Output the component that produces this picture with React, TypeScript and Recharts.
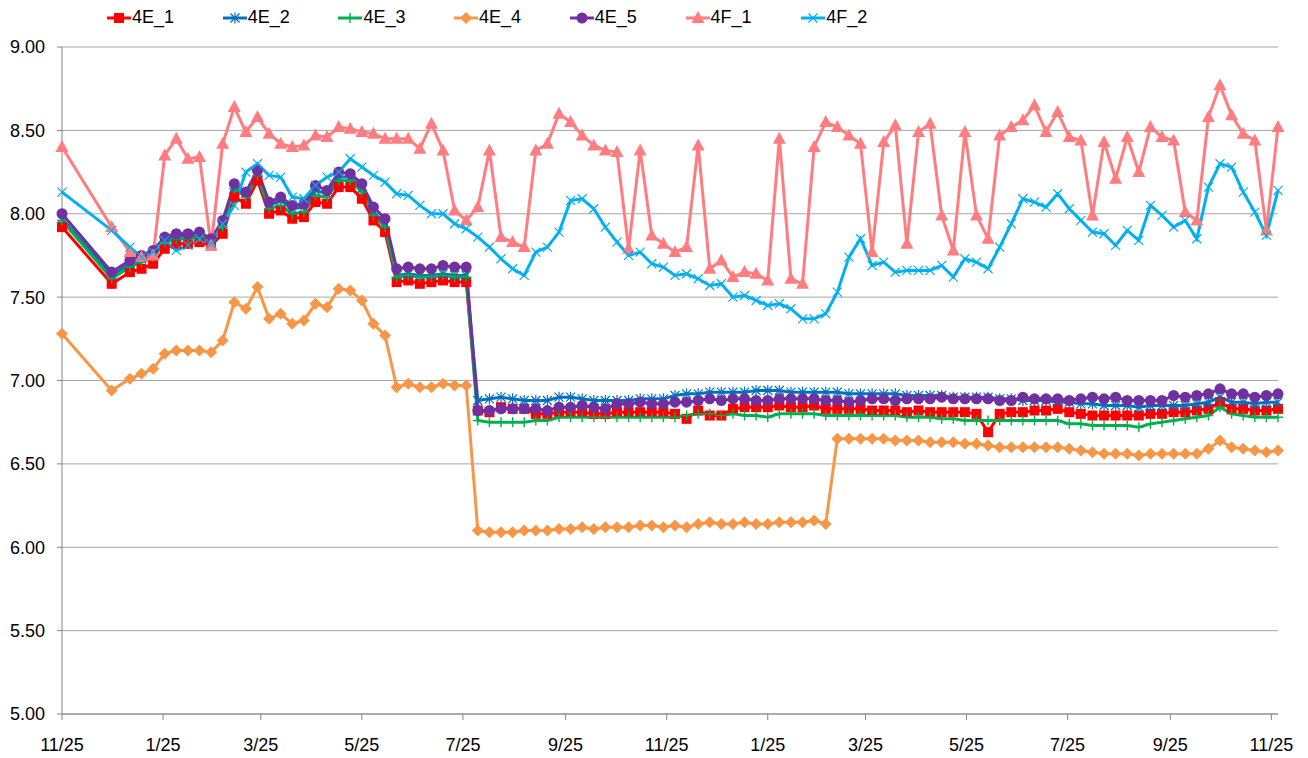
import React from "react";
import {
  LineChart,
  Line,
  XAxis,
  YAxis,
  CartesianGrid,
} from "recharts";

// days since the first reading (11/25)
const days = [
  0, 30, 41, 48, 55, 62, 69, 76, 83, 90, 97, 104, 111, 118, 125, 132, 139, 146,
  153, 160, 167, 174, 181, 188, 195, 202, 209, 216, 223, 230, 237, 244, 251,
  258, 265, 272, 279, 286, 293, 300, 307, 314, 321, 328, 335, 342, 349, 356,
  363, 370, 377, 384, 391, 398, 405, 412, 419, 426, 433, 440, 447, 454, 461,
  468, 475, 482, 489, 496, 503, 510, 517, 524, 531, 538, 545, 552, 559, 566,
  573, 580, 587, 594, 601, 608, 615, 622, 629, 636, 643, 650, 657, 664, 671,
  678, 685, 692, 699, 706, 713, 720, 727, 734,
];

const tickDays = [0, 61, 120, 181, 242, 304, 365, 426, 485, 546, 607, 669, 730];
const tickLabels = [
  "11/25", "1/25", "3/25", "5/25", "7/25", "9/25", "11/25",
  "1/25", "3/25", "5/25", "7/25", "9/25", "11/25",
];
const yTicks = [5, 5.5, 6, 6.5, 7, 7.5, 8, 8.5, 9];

const s4E1 = [
  7.92, 7.58, 7.65, 7.67, 7.7, 7.79, 7.82, 7.82, 7.83, 7.81, 7.88, 8.1, 8.06,
  8.2, 8.0, 8.02, 7.97, 7.98, 8.07, 8.06, 8.16, 8.16, 8.09, 7.96, 7.89, 7.59,
  7.6, 7.58, 7.59, 7.6, 7.59, 7.59,
  6.82, 6.81, 6.84, 6.83, 6.83, 6.8, 6.8, 6.81, 6.81, 6.81, 6.8, 6.8, 6.81,
  6.81, 6.81, 6.81, 6.81, 6.8, 6.77, 6.82, 6.79, 6.79, 6.83, 6.84, 6.84, 6.84,
  6.85, 6.84, 6.84, 6.85, 6.83, 6.83, 6.83, 6.83, 6.82, 6.82, 6.82, 6.81,
  6.82, 6.81, 6.81, 6.81, 6.81, 6.8, 6.69, 6.8, 6.81, 6.81, 6.82, 6.82, 6.83,
  6.81, 6.8, 6.79, 6.79, 6.79, 6.79, 6.79, 6.8, 6.8, 6.81, 6.81, 6.82, 6.83,
  6.87, 6.83, 6.83, 6.82, 6.82, 6.83,
];

const s4E2 = [
  7.97, 7.63, 7.7, 7.73, 7.76, 7.85, 7.86, 7.87, 7.87, 7.84, 7.94, 8.16, 8.12,
  8.24, 8.05, 8.08, 8.03, 8.04, 8.14, 8.12, 8.22, 8.22, 8.15, 8.01, 7.94, 7.63,
  7.64, 7.63, 7.63, 7.64, 7.63, 7.63,
  6.88, 6.89, 6.9, 6.89, 6.88, 6.88, 6.88, 6.9, 6.9, 6.89, 6.88, 6.88, 6.88,
  6.88, 6.89, 6.89, 6.89, 6.91, 6.92, 6.92, 6.93, 6.93, 6.93, 6.93, 6.94, 6.94,
  6.94, 6.93, 6.93, 6.93, 6.93, 6.93, 6.92, 6.92, 6.92, 6.92, 6.92, 6.91,
  6.91, 6.91, 6.91, 6.9, 6.9, 6.9, 6.9, 6.89, 6.89, 6.88, 6.88, 6.88, 6.87,
  6.87, 6.86, 6.86, 6.85, 6.85, 6.85, 6.84, 6.85, 6.85, 6.85, 6.85, 6.86, 6.87,
  6.9, 6.87, 6.87, 6.86, 6.87, 6.87,
];

const s4E3 = [
  7.96, 7.61, 7.68, 7.71, 7.74, 7.83, 7.85, 7.85, 7.86, 7.83, 7.92, 8.15, 8.1,
  8.23, 8.03, 8.05, 8.0, 8.01, 8.11, 8.1, 8.2, 8.2, 8.13, 7.99, 7.92, 7.62,
  7.63, 7.62, 7.62, 7.63, 7.62, 7.62,
  6.76, 6.75, 6.75, 6.75, 6.75, 6.76, 6.76, 6.78, 6.78, 6.78, 6.78, 6.78, 6.78,
  6.78, 6.78, 6.78, 6.78, 6.78, 6.79, 6.8, 6.8, 6.79, 6.8, 6.79, 6.79, 6.78,
  6.8, 6.8, 6.8, 6.8, 6.79, 6.79, 6.79, 6.79, 6.79, 6.79, 6.79, 6.78, 6.78,
  6.78, 6.77, 6.77, 6.76, 6.76, 6.76, 6.76, 6.76, 6.76, 6.76, 6.76, 6.76,
  6.74, 6.74, 6.73, 6.73, 6.73, 6.73, 6.72, 6.74, 6.75, 6.76, 6.77, 6.78,
  6.79, 6.84, 6.8, 6.79, 6.78, 6.78, 6.78,
];

const s4E4 = [
  7.28, 6.94, 7.01, 7.04, 7.07, 7.16, 7.18, 7.18, 7.18, 7.17, 7.24, 7.47, 7.43,
  7.56, 7.37, 7.4, 7.34, 7.36, 7.46, 7.44, 7.55, 7.54, 7.48, 7.34, 7.27, 6.96,
  6.98, 6.96, 6.96, 6.98, 6.97, 6.97,
  6.1, 6.09, 6.09, 6.09, 6.1, 6.1, 6.1, 6.11, 6.11, 6.12, 6.11, 6.12, 6.12,
  6.12, 6.13, 6.13, 6.12, 6.13, 6.12, 6.14, 6.15, 6.14, 6.14, 6.15, 6.14, 6.14,
  6.15, 6.15, 6.15, 6.16, 6.14, 6.65, 6.65, 6.65, 6.65, 6.65, 6.64, 6.64,
  6.64, 6.63, 6.63, 6.63, 6.62, 6.62, 6.61, 6.6, 6.6, 6.6, 6.6, 6.6, 6.6,
  6.59, 6.58, 6.57, 6.56, 6.56, 6.56, 6.55, 6.56, 6.56, 6.56, 6.56, 6.56,
  6.59, 6.64, 6.6, 6.59, 6.58, 6.57, 6.58,
];

const s4E5 = [
  8.0, 7.65, 7.72, 7.75, 7.78, 7.86, 7.88, 7.88, 7.89, 7.85, 7.96, 8.18, 8.13,
  8.26, 8.07, 8.1, 8.05, 8.06, 8.17, 8.14, 8.25, 8.24, 8.18, 8.04, 7.97, 7.67,
  7.68, 7.67, 7.67, 7.69, 7.68, 7.68,
  6.82, 6.82, 6.83, 6.83, 6.83, 6.83, 6.82, 6.84, 6.84, 6.85, 6.84, 6.83, 6.86,
  6.86, 6.87, 6.86, 6.86, 6.87, 6.87, 6.88, 6.89, 6.88, 6.89, 6.89, 6.88, 6.88,
  6.89, 6.89, 6.89, 6.89, 6.88, 6.88, 6.87, 6.88, 6.89, 6.89, 6.88, 6.89,
  6.89, 6.89, 6.9, 6.89, 6.89, 6.89, 6.89, 6.88, 6.88, 6.9, 6.89, 6.89, 6.89,
  6.88, 6.89, 6.9, 6.89, 6.9, 6.88, 6.88, 6.88, 6.88, 6.91, 6.9, 6.91, 6.92,
  6.95, 6.92, 6.92, 6.9, 6.91, 6.92,
];

const s4F1 = [
  8.4, 7.92, 7.77, 7.74, 7.75, 8.35, 8.45, 8.33, 8.34, 7.81, 8.42, 8.64, 8.49,
  8.58, 8.48, 8.42, 8.4, 8.41, 8.47, 8.46, 8.52, 8.51, 8.49, 8.48, 8.45, 8.45,
  8.45, 8.39, 8.54, 8.38, 8.02, 7.96, 8.04, 8.38, 7.86, 7.83, 7.8, 8.38, 8.42,
  8.6, 8.55, 8.47, 8.41, 8.38, 8.37, 7.79, 8.38, 7.87, 7.82, 7.77, 7.8, 8.41,
  7.67, 7.72, 7.62, 7.65, 7.64, 7.6, 8.45, 7.61, 7.58, 8.4, 8.55, 8.52, 8.47,
  8.42, 7.77, 8.43, 8.53, 7.82, 8.49, 8.54, 7.99, 7.78, 8.49, 7.99, 7.85, 8.47,
  8.52, 8.56, 8.65, 8.49, 8.61, 8.46, 8.44, 7.99, 8.43, 8.21, 8.46, 8.25, 8.52,
  8.46, 8.44, 8.01, 7.96, 8.58, 8.77, 8.59, 8.48, 8.44, 7.9, 8.52,
];

const s4F2 = [
  8.13, 7.9, 7.8, 7.74, 7.77, 7.84, 7.78, 7.81, 7.85, 7.82, 7.94, 8.05, 8.25,
  8.3, 8.23, 8.22, 8.1, 8.09, 8.17, 8.22, 8.25, 8.33, 8.28, 8.23, 8.19, 8.12,
  8.11, 8.05, 8.0, 8.0, 7.94, 7.91, 7.86, 7.8, 7.73, 7.67, 7.63, 7.77, 7.8,
  7.89, 8.08, 8.09, 8.03, 7.92, 7.83, 7.75, 7.77, 7.7, 7.68, 7.63, 7.64, 7.61,
  7.57, 7.58, 7.5, 7.51, 7.48, 7.45, 7.46, 7.43, 7.37, 7.37, 7.4, 7.53, 7.74,
  7.85, 7.69, 7.71, 7.65, 7.66, 7.66, 7.66, 7.69, 7.62, 7.73, 7.71, 7.67, 7.8,
  7.94, 8.09, 8.07, 8.04, 8.12, 8.03, 7.96, 7.89, 7.88, 7.81, 7.9, 7.84, 8.05,
  7.99, 7.92, 7.96, 7.85, 8.16, 8.3, 8.28, 8.13, 8.01, 7.87, 8.14,
];

type MarkerKind = "square" | "star" | "plus" | "diamond" | "circle" | "triangle" | "cross";

function Marker({ kind, cx, cy, color }: { kind: MarkerKind; cx: number; cy: number; color: string }) {
  switch (kind) {
    case "square":
      return <rect x={cx - 5} y={cy - 5} width={10} height={10} fill={color} />;
    case "star":
      return (
        <g stroke={color} strokeWidth={1.2}>
          <line x1={cx - 4.5} y1={cy - 4.5} x2={cx + 4.5} y2={cy + 4.5} />
          <line x1={cx - 4.5} y1={cy + 4.5} x2={cx + 4.5} y2={cy - 4.5} />
          <line x1={cx} y1={cy - 5.5} x2={cx} y2={cy + 5.5} />
        </g>
      );
    case "plus":
      return (
        <g stroke={color} strokeWidth={1.4}>
          <line x1={cx - 5} y1={cy} x2={cx + 5} y2={cy} />
          <line x1={cx} y1={cy - 5} x2={cx} y2={cy + 5} />
        </g>
      );
    case "diamond":
      return (
        <polygon
          points={`${cx},${cy - 6} ${cx + 6},${cy} ${cx},${cy + 6} ${cx - 6},${cy}`}
          fill={color}
        />
      );
    case "circle":
      return <circle cx={cx} cy={cy} r={5.5} fill={color} />;
    case "triangle":
      return (
        <polygon
          points={`${cx},${cy - 7} ${cx + 6.5},${cy + 5} ${cx - 6.5},${cy + 5}`}
          fill={color}
        />
      );
    case "cross":
      return (
        <g stroke={color} strokeWidth={1.2}>
          <line x1={cx - 4.5} y1={cy - 4.5} x2={cx + 4.5} y2={cy + 4.5} />
          <line x1={cx - 4.5} y1={cy + 4.5} x2={cx + 4.5} y2={cy - 4.5} />
        </g>
      );
  }
  return null;
}

const series: { key: string; values: number[]; color: string; marker: MarkerKind }[] = [
  { key: "4E_1", values: s4E1, color: "#FF0000", marker: "square" },
  { key: "4E_2", values: s4E2, color: "#0070C0", marker: "star" },
  { key: "4E_3", values: s4E3, color: "#00B050", marker: "plus" },
  { key: "4E_4", values: s4E4, color: "#F79646", marker: "diamond" },
  { key: "4E_5", values: s4E5, color: "#7030A0", marker: "circle" },
  { key: "4F_1", values: s4F1, color: "#FF7C80", marker: "triangle" },
  { key: "4F_2", values: s4F2, color: "#00B0F0", marker: "cross" },
];

const data = days.map((d, i) => {
  const row: Record<string, number> = { day: d };
  series.forEach((s) => {
    row[s.key] = s.values[i];
  });
  return row;
});

const FONT = "'Liberation Sans', Arial, sans-serif";

function Legend() {
  return (
    <div
      style={{
        position: "absolute",
        left: 0,
        top: 0,
        width: 1308,
        height: 34,
        fontFamily: FONT,
        fontSize: 18,
      }}
    >
      {series.map((s, i) => {
        const cx = 119 + i * 115.7;
        return (
          <div key={s.key} style={{ position: "absolute", left: cx - 13, top: 7, display: "flex", alignItems: "center" }}>
            <svg width={26} height={20}>
              <line x1={1} y1={10} x2={25} y2={10} stroke={s.color} strokeWidth={3} />
              <Marker kind={s.marker} cx={13} cy={10} color={s.color} />
            </svg>
            <span style={{ marginLeft: 0, color: "#000" }}>{s.key}</span>
          </div>
        );
      })}
    </div>
  );
}

export default function App() {
  return (
    <div style={{ position: "absolute", left: 0, top: 0, width: 1308, height: 758, background: "#fff" }}>
      <LineChart
        width={1308}
        height={758}
        data={data}
        margin={{ top: 47, right: 30, bottom: 0, left: 0 }}
      >
        <CartesianGrid vertical={false} stroke="#A6A6A6" strokeWidth={1} />
        <XAxis
          dataKey="day"
          type="number"
          domain={[0, 734]}
          ticks={tickDays}
          tickFormatter={(v: number) => tickLabels[tickDays.indexOf(v)] ?? ""}
          interval={0}
          height={44}
          stroke="#868686"
          tickSize={6}
          tickMargin={18}
          tick={{ fill: "#000", fontSize: 18, fontFamily: FONT }}
        />
        <YAxis
          type="number"
          domain={[5, 9]}
          ticks={yTicks}
          interval={0}
          width={62}
          stroke="#868686"
          tickSize={5}
          tickMargin={12}
          tickFormatter={(v: number) => v.toFixed(2)}
          tick={{ fill: "#000", fontSize: 18, fontFamily: FONT }}
        />
        {series.map((s) => (
          <Line
            key={s.key}
            type="linear"
            dataKey={s.key}
            stroke={s.color}
            strokeWidth={3}
            isAnimationActive={false}
            activeDot={false}
            dot={(p: any) => (
              <Marker key={`${s.key}-${p.index}`} kind={s.marker} cx={p.cx} cy={p.cy} color={s.color} />
            )}
          />
        ))}
      </LineChart>
      <Legend />
    </div>
  );
}
